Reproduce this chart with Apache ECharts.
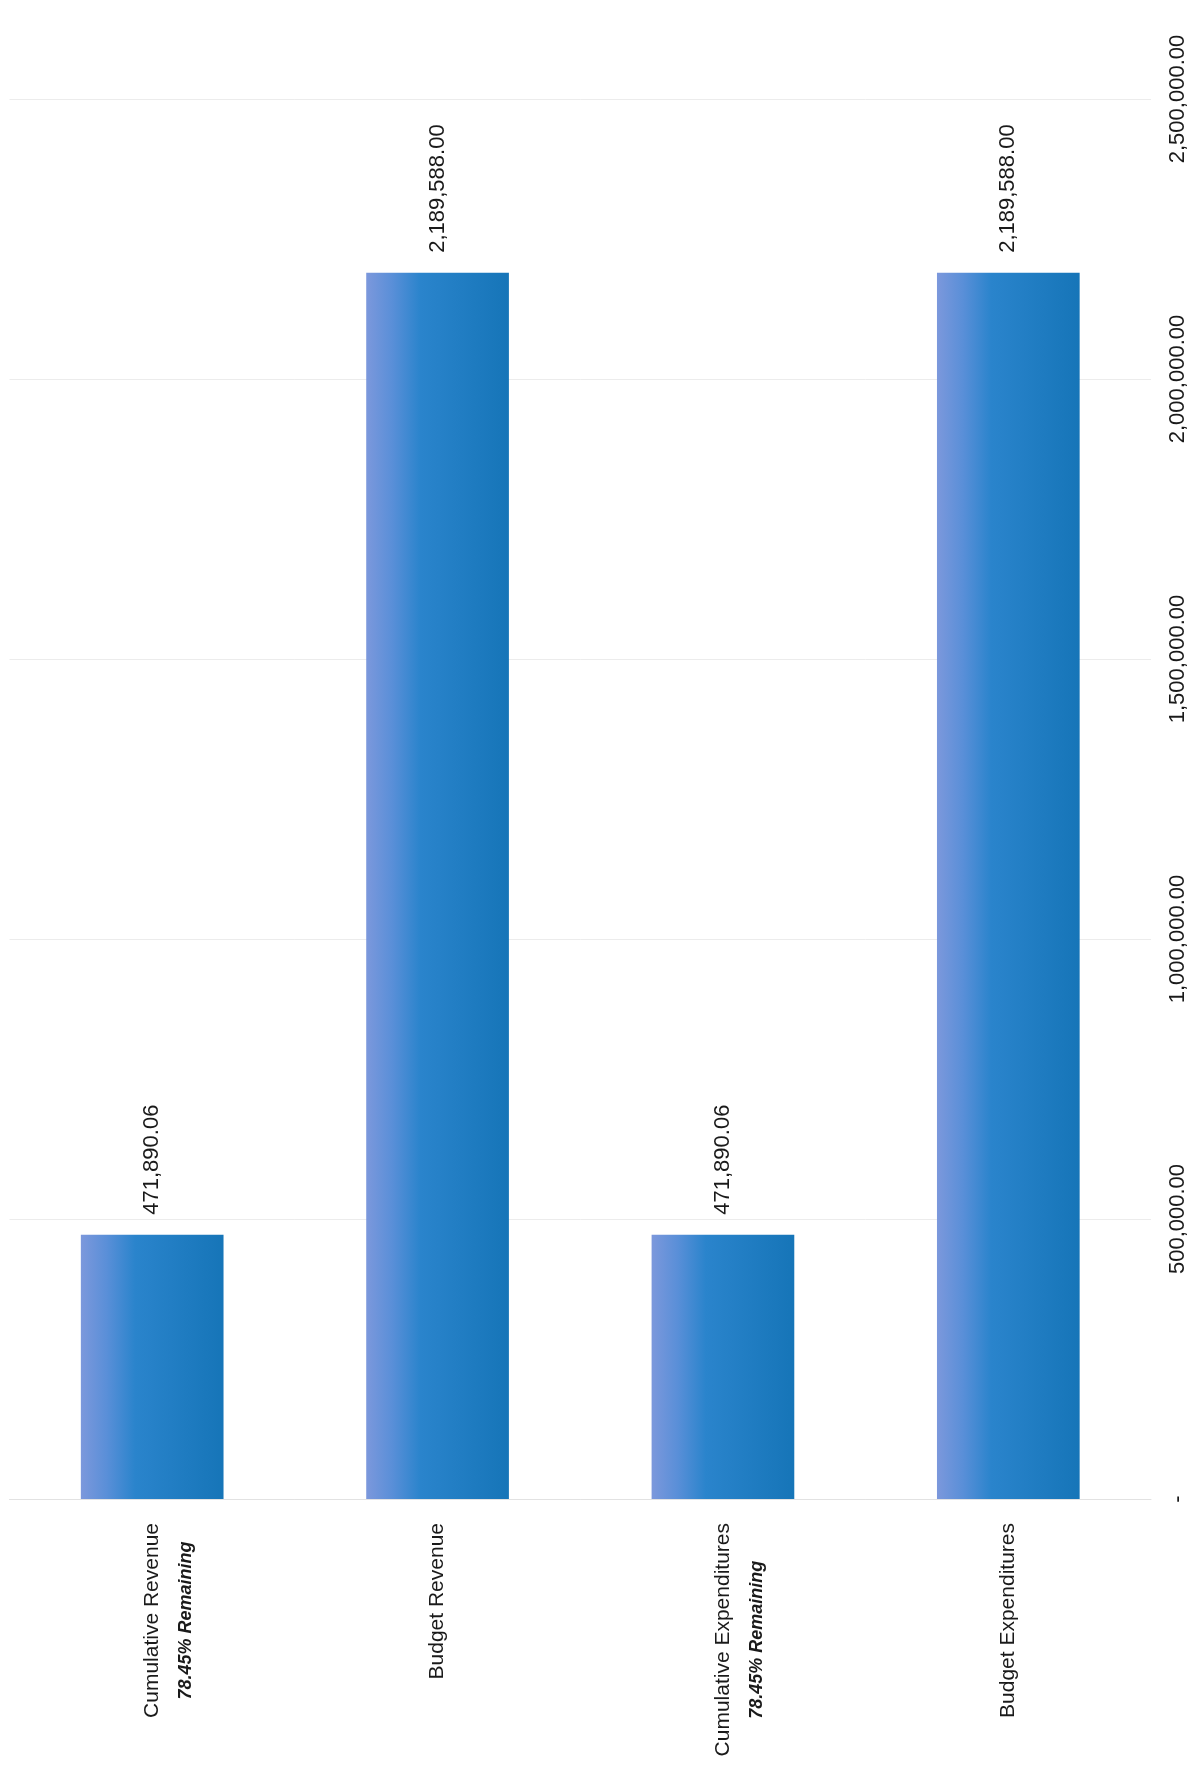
<!DOCTYPE html>
<html>
<head>
<meta charset="utf-8">
<title>Revenue and Expenditures vs Budget</title>
<script src="https://cdn.jsdelivr.net/npm/echarts@6/dist/echarts.min.js"></script>
<style>
  html, body { margin: 0; padding: 0; background: #ffffff; }
  #chart { width: 1203px; height: 1769px; }
</style>
</head>
<body>
<div id="chart"></div>
<script>
// Category names and the note shown under the cumulative ones
const categories = ['Cumulative Revenue', 'Budget Revenue', 'Cumulative Expenditures', 'Budget Expenditures'];
const categoryNotes = ['78.45% Remaining', '', '78.45% Remaining', ''];

// Amounts for each category
const amounts = [471890.06, 2189588.00, 471890.06, 2189588.00];

// Value axis range and step
const axisMax = 2500000;
const axisStep = 500000;

function formatAmount(v) {
  if (v === 0) return '-';
  const fixed = Math.abs(v).toFixed(2);
  const parts = fixed.split('.');
  const intPart = parts[0].replace(/\B(?=(\d{3})+(?!\d))/g, ',');
  return (v < 0 ? '-' : '') + intPart + '.' + parts[1];
}

const barGradient = new echarts.graphic.LinearGradient(0, 0, 1, 0, [
  { offset: 0, color: '#7c98dc' },
  { offset: 0.18, color: '#5a8fd8' },
  { offset: 0.38, color: '#2a84cc' },
  { offset: 1, color: '#1675b8' }
]);

const chart = echarts.init(document.getElementById('chart'), null, { renderer: 'canvas' });

chart.setOption({
  backgroundColor: '#ffffff',
  animation: false,
  grid: { left: 9.5, right: 52, top: 99, bottom: 270, containLabel: false },
  xAxis: {
    type: 'category',
    data: categories,
    axisLine: { show: true, lineStyle: { color: '#e2e2e2', width: 1 } },
    axisTick: { show: false },
    axisLabel: {
      rotate: 90,
      margin: 24,
      interval: 0,
      lineHeight: 34,
      fontFamily: 'Liberation Sans, Arial, sans-serif',
      fontSize: 21,
      color: '#1a1a1a',
      formatter: function (name, idx) {
        const note = categoryNotes[idx];
        if (note) {
          return '\n{a|' + name + '}\n{b|' + note + '}';
        }
        return '{a|' + name + '}';
      },
      rich: {
        a: {
          fontFamily: 'Liberation Sans, Arial, sans-serif',
          fontSize: 21,
          lineHeight: 34,
          color: '#1a1a1a',
          align: 'center'
        },
        b: {
          fontFamily: 'Liberation Sans, Arial, sans-serif',
          fontSize: 18,
          fontWeight: 'bold',
          fontStyle: 'italic',
          lineHeight: 34,
          color: '#1a1a1a',
          align: 'center'
        }
      }
    }
  },
  yAxis: {
    type: 'value',
    position: 'right',
    min: 0,
    max: axisMax,
    interval: axisStep,
    axisLine: { show: false },
    axisTick: { show: false },
    splitLine: { show: true, lineStyle: { color: '#ececec', width: 1 } },
    axisLabel: {
      rotate: 90,
      margin: 16,
      fontFamily: 'Liberation Sans, Arial, sans-serif',
      fontSize: 22,
      color: '#1a1a1a',
      formatter: function (v) { return formatAmount(v); }
    }
  },
  series: [{
    type: 'bar',
    data: amounts,
    barWidth: '50%',
    itemStyle: { color: barGradient },
    label: {
      show: true,
      position: 'top',
      rotate: 90,
      align: 'left',
      verticalAlign: 'middle',
      distance: 20,
      fontFamily: 'Liberation Sans, Arial, sans-serif',
      fontSize: 22,
      color: '#1a1a1a',
      formatter: function (p) { return formatAmount(p.value); }
    }
  }]
});
</script>
</body>
</html>
